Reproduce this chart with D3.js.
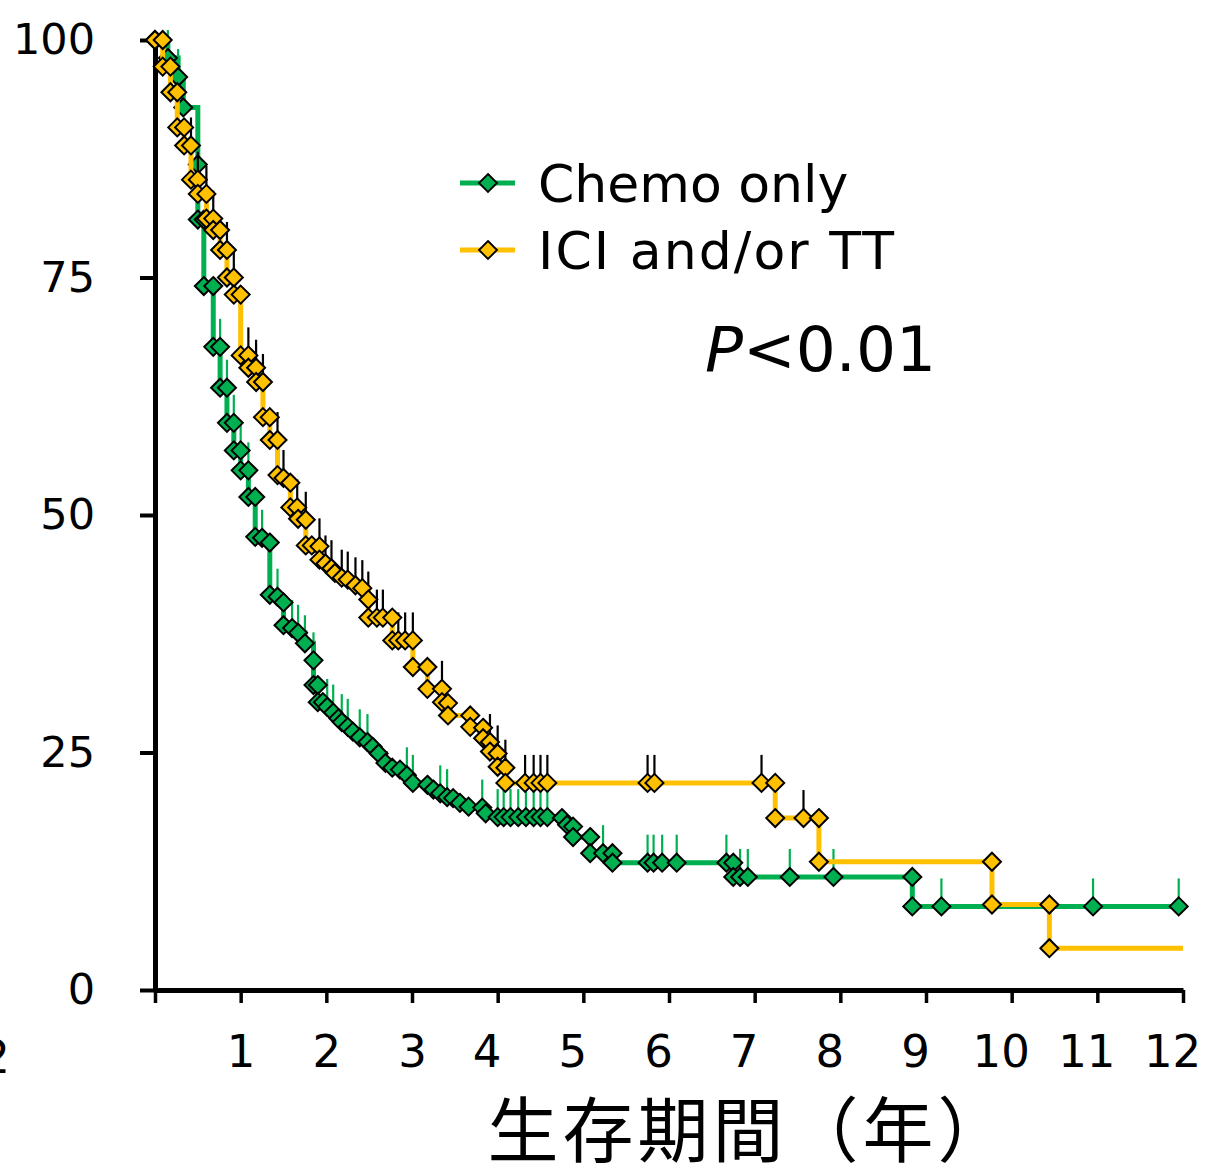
<!DOCTYPE html>
<html lang="ja">
<head>
<meta charset="UTF-8">
<title>生存期間</title>
<script src="https://d3js.org/d3.v7.min.js"></script>
<style>
  body { margin: 0; background: #fff; overflow: hidden; }
  svg { display: block; }
  text { font-family: "DejaVu Sans", Verdana, sans-serif; fill: #000; }
  .axis path, .axis line { stroke: #000; }
</style>
</head>
<body>
<script>
// ---- data: [years, survival %] for every marker drawn on the curve ----
const chemoPoints = [
  [0, 100], [0.15, 98.1], [0.27, 96.1], [0.33, 92.9], [0.50, 86.9], [0.50, 81.1],
  [0.57, 81.1], [0.57, 74.1], [0.68, 74.1], [0.68, 67.7], [0.76, 67.7], [0.76, 63.4],
  [0.84, 63.4], [0.84, 59.7], [0.92, 59.7], [0.92, 56.8], [1.00, 56.8], [1.00, 54.7],
  [1.09, 54.7], [1.09, 51.9], [1.17, 51.9], [1.17, 47.7], [1.25, 47.6], [1.34, 47.1],
  [1.34, 41.6], [1.43, 41.4], [1.50, 40.8], [1.50, 38.4], [1.60, 38.1], [1.67, 37.6],
  [1.75, 36.5], [1.85, 34.7], [1.85, 32.1], [1.90, 32.1], [1.90, 30.3], [1.96, 30.3],
  [2.01, 29.8], [2.08, 29.2], [2.14, 28.6], [2.18, 28.2], [2.25, 27.7], [2.31, 27.2],
  [2.39, 26.6], [2.48, 26.1], [2.54, 25.6], [2.61, 24.9], [2.69, 23.9], [2.77, 23.4],
  [2.86, 23.2], [2.94, 22.6], [3.01, 21.8], [3.18, 21.6], [3.25, 21.1], [3.33, 20.7],
  [3.41, 20.3], [3.48, 20.2], [3.56, 19.7], [3.66, 19.3], [3.82, 19.2], [3.86, 18.6],
  [4.00, 18.2], [4.07, 18.2], [4.15, 18.2], [4.24, 18.2], [4.33, 18.2], [4.42, 18.2],
  [4.50, 18.2], [4.58, 18.2], [4.75, 18.1], [4.81, 17.4], [4.88, 17.2], [4.88, 16.1],
  [5.08, 16.1], [5.08, 14.4], [5.23, 14.4], [5.34, 14.4], [5.34, 13.4], [5.75, 13.4],
  [5.82, 13.4], [5.92, 13.4], [6.09, 13.4], [6.67, 13.4], [6.75, 13.4], [6.75, 11.9],
  [6.83, 11.9], [6.92, 11.9], [7.41, 11.9], [7.92, 11.9], [8.84, 11.9], [8.84, 8.8],
  [9.18, 8.8], [10.95, 8.8], [11.95, 8.8]
];
// censored times (years)
const chemoCensor = [
  0.15, 0.27, 0.33, 0.76, 0.84, 0.92, 1.00, 1.09, 1.25, 1.43, 1.60, 1.67, 1.75, 1.85,
  2.01, 2.08, 2.18, 2.25, 2.39, 2.48, 2.94, 3.01, 3.33, 3.41, 3.82, 4.00, 4.07, 4.15,
  4.24, 4.33, 4.42, 4.50, 4.58, 5.23, 5.75, 5.82, 5.92, 6.09, 6.67, 6.83, 6.92, 7.41,
  7.92, 9.18, 10.95, 11.95
];

const iciPoints = [
  [0, 100], [0.09, 100], [0.09, 97.2], [0.18, 97.2], [0.18, 94.5], [0.26, 94.5],
  [0.26, 90.8], [0.34, 90.8], [0.34, 88.9], [0.42, 88.9], [0.42, 85.3], [0.50, 85.3],
  [0.50, 83.8], [0.60, 83.8], [0.60, 81.2], [0.68, 81.2], [0.68, 80.0], [0.76, 80.0],
  [0.76, 77.9], [0.84, 77.9], [0.84, 75.0], [0.92, 75.0], [0.92, 73.2], [1.00, 73.2],
  [1.00, 66.8], [1.09, 66.8], [1.09, 65.5], [1.18, 65.5], [1.18, 64.0], [1.26, 64.0],
  [1.26, 60.3], [1.34, 60.3], [1.34, 57.9], [1.43, 57.9], [1.43, 54.2], [1.50, 53.9],
  [1.58, 53.4], [1.58, 50.8], [1.66, 50.8], [1.67, 49.6], [1.76, 49.5], [1.76, 46.8],
  [1.83, 46.8], [1.92, 46.7], [1.92, 45.3], [1.99, 44.9], [2.06, 44.4], [2.10, 43.9],
  [2.18, 43.4], [2.25, 43.2], [2.34, 42.6], [2.42, 42.3], [2.49, 41.1], [2.49, 39.2],
  [2.59, 39.2], [2.66, 39.2], [2.77, 39.2], [2.77, 36.8], [2.84, 36.8], [2.92, 36.8],
  [3.01, 36.8], [3.01, 34.0], [3.18, 34.0], [3.18, 31.7], [3.35, 31.7], [3.35, 30.3],
  [3.42, 30.2], [3.42, 28.9], [3.68, 28.9], [3.68, 27.7], [3.83, 27.6], [3.83, 26.5],
  [3.91, 26.1], [3.91, 25.1], [4.00, 24.9], [4.00, 23.5], [4.09, 23.4], [4.09, 21.8],
  [4.32, 21.8], [4.42, 21.8], [4.50, 21.8], [4.58, 21.8], [5.75, 21.8], [5.83, 21.8],
  [7.08, 21.8], [7.24, 21.8], [7.24, 18.1], [7.57, 18.1], [7.75, 18.1], [7.75, 13.5],
  [9.77, 13.5], [9.77, 9.0], [10.44, 9.0], [10.44, 4.4]
];
const iciCensor = [
  0.42, 0.50, 0.60, 0.68, 0.84, 0.92, 1.09, 1.18, 1.26, 1.43, 1.50, 1.66, 1.76, 1.92,
  1.99, 2.06, 2.18, 2.25, 2.34, 2.42, 2.49, 2.59, 2.66, 2.84, 2.92, 3.01, 3.35, 3.91,
  4.00, 4.09, 4.32, 4.42, 4.50, 4.58, 5.75, 5.83, 7.08, 7.57
];
const iciLastYear = 12.0;   // line runs on past the last marker

const seriesNames = ["Chemo only", "ICI and/or TT"];
const seriesColors = ["#00B050", "#FFC000"];
const censorColors = ["#00B050", "#000000"];
const xTicks = [0, 1, 2, 3, 4, 5, 6, 7, 8, 9, 10, 11, 12];
const yTicks = [0, 25, 50, 75, 100];
const xTitle = "生存期間（年）";
const pText = "<0.01";

// ---- chart ----
const width = 1207, height = 1171;
const svg = d3.select("body").append("svg")
  .attr("width", width)
  .attr("height", height);

const x = d3.scaleLinear().domain([0, 12]).range([155, 1183]);
const y = d3.scaleLinear().domain([0, 100]).range([990, 40]);

// axes
const yAxis = svg.append("g")
  .attr("class", "axis")
  .attr("transform", "translate(155,0)")
  .call(d3.axisLeft(y).tickValues(yTicks).tickSize(15).tickSizeOuter(0).tickPadding(45));
yAxis.select(".domain").attr("stroke-width", 5);
yAxis.selectAll(".tick line").attr("stroke-width", 4);
yAxis.selectAll("text").attr("font-size", 43).attr("font-family", "DejaVu Sans, Verdana, sans-serif");

const xAxis = svg.append("g")
  .attr("class", "axis")
  .attr("transform", "translate(0,990)")
  .call(d3.axisBottom(x).tickValues(xTicks).tickSize(13).tickSizeOuter(0).tickPadding(32)
    .tickFormat(d => d === 0 ? "" : d));
xAxis.select(".domain").attr("stroke-width", 5);
xAxis.selectAll(".tick line").attr("stroke-width", 3.5);
// the original labels from 4 on sit a little left of their ticks
xAxis.selectAll("text")
  .attr("font-size", 45)
  .attr("font-family", "DejaVu Sans, Verdana, sans-serif")
  .attr("dx", d => d >= 4 ? -11 : 0);

// axis title
svg.append("text")
  .attr("x", 750)
  .attr("y", 1156)
  .attr("text-anchor", "middle")
  .style("font-family", "'Noto Sans CJK JP', 'Noto Sans CJK SC', sans-serif")
  .style("letter-spacing", "4px")
  .attr("font-size", 71)
  .text(xTitle);

// stray label cut at the left edge
svg.append("text")
  .attr("x", 10).attr("y", 1073)
  .attr("text-anchor", "end")
  .attr("font-size", 46)
  .text("2");

// step-line value at a censor time (upper point when a drop sits there)
function survAt(points, t) {
  let j = 0;
  points.forEach((p, i) => { if (p[0] <= t + 1e-6) j = i; });
  while (j > 0 && Math.abs(points[j - 1][0] - points[j][0]) < 1e-6) j--;
  return points[j][1];
}

const diamond = "M0,-9L9,0L0,9L-9,0Z";
const stepLine = d3.line()
  .x(d => x(d[0]))
  .y(d => y(d[1]))
  .curve(d3.curveStepAfter);

const series = [
  { points: chemoPoints, censor: chemoCensor, line: chemoPoints },
  { points: iciPoints, censor: iciCensor,
    line: iciPoints.concat([[iciLastYear, iciPoints[iciPoints.length - 1][1]]]) }
];

series.forEach((s, k) => {
  const g = svg.append("g");

  g.append("path")
    .datum(s.line)
    .attr("fill", "none")
    .attr("stroke", seriesColors[k])
    .attr("stroke-width", 5)
    .attr("d", stepLine);

  g.selectAll(".censor")
    .data(s.censor)
    .enter().append("line")
    .attr("class", "censor")
    .attr("x1", d => x(d)).attr("x2", d => x(d))
    .attr("y1", d => y(survAt(s.points, d)))
    .attr("y2", d => y(survAt(s.points, d)) - 28)
    .attr("stroke", censorColors[k])
    .attr("stroke-width", 2.2);

  g.selectAll(".mark")
    .data(s.points)
    .enter().append("path")
    .attr("class", "mark")
    .attr("d", diamond)
    .attr("transform", d => `translate(${x(d[0])},${y(d[1])})`)
    .attr("fill", seriesColors[k])
    .attr("stroke", "#000")
    .attr("stroke-width", 2);
});

// legend (the original face is wider, so the long label is stretched to its width)
const legendWidths = [null, 356];
const legend = svg.append("g").attr("transform", "translate(460,183)");
seriesNames.forEach((name, k) => {
  const row = legend.append("g").attr("transform", `translate(0,${k * 67})`);
  row.append("line")
    .attr("x1", 0).attr("x2", 55)
    .attr("stroke", seriesColors[k])
    .attr("stroke-width", 5);
  row.append("path")
    .attr("d", diamond)
    .attr("transform", "translate(28,0)")
    .attr("fill", seriesColors[k])
    .attr("stroke", "#000")
    .attr("stroke-width", 1.8);
  const label = row.append("text")
    .attr("x", 78)
    .attr("y", 19)
    .attr("font-size", 52)
    .text(name);
  if (legendWidths[k]) label.attr("textLength", legendWidths[k]).attr("lengthAdjust", "spacing");
});

// p value
const pv = svg.append("text")
  .attr("x", 705)
  .attr("y", 371)
  .attr("font-size", 63);
pv.append("tspan").attr("font-style", "italic").text("P");
pv.append("tspan").text(pText);
</script>
</body>
</html>
